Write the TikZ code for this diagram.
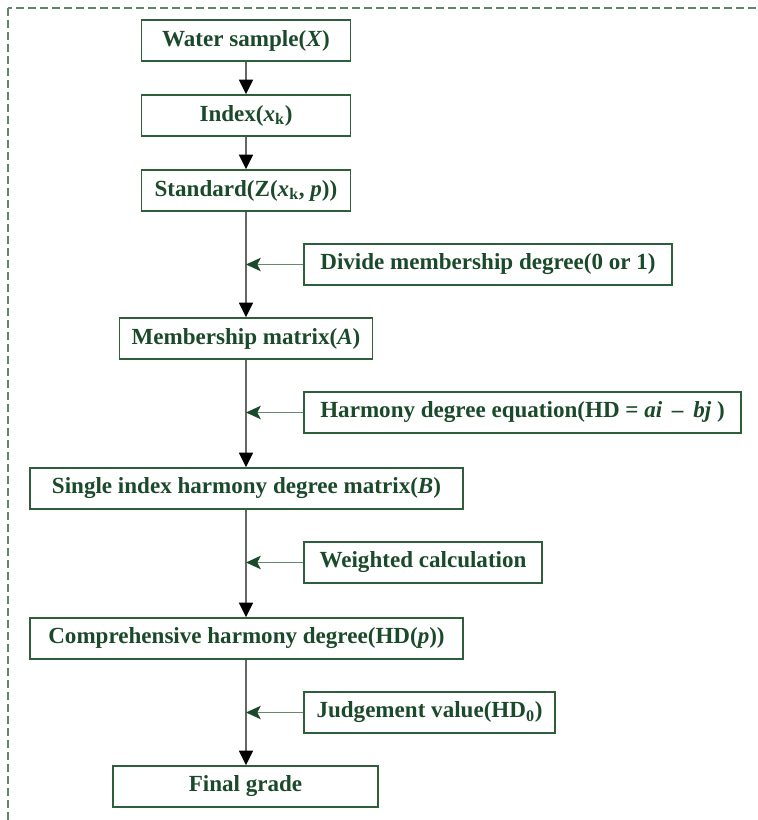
\documentclass[tikz,border=0pt]{standalone}
\usepackage{fontspec}
\setmainfont{Liberation Serif}
\usetikzlibrary{calc}
\usetikzlibrary{arrows.meta}
\definecolor{boxgreen}{HTML}{2E5E3C}
\definecolor{textgreen}{HTML}{1B4A2A}
\definecolor{linegreen}{HTML}{628A6C}
\definecolor{framegreen}{HTML}{5E8868}
\tikzset{
	stepbox/.style={draw=boxgreen, line width=1.1pt, text=textgreen, font=\fontsize{17.3}{20}\selectfont\bfseries, minimum height=30.75pt, inner sep=0pt},
	mainarrow/.style={draw=black!60, line width=1.2pt, -{Triangle[length=11pt,width=10.5pt,color=black]}},
	sidearrow/.style={draw=linegreen, line width=1.3pt, -{Stealth[length=11pt,width=10pt,inset=2.5pt,color=textgreen]}},
}
\begin{document}
\begin{tikzpicture}[x=0.75pt,y=-0.75pt]
	\useasboundingbox (0,0) rectangle (757,820);
	\draw[framegreen, line width=0.9pt, dash pattern=on 6pt off 3pt] (8,8) rectangle (780,840);
	% main column
	\node[stepbox, minimum width=156.75pt] (water) at (246,40.5) {Water sample(\textit{X})};
	\node[stepbox, minimum width=156.75pt] (index) at (246,115.5) {Index(\textit{x}\textsubscript{k})};
	\node[stepbox, minimum width=156.75pt] (standard) at (246,190.5) {Standard(Z(\textit{x}\textsubscript{k}, \textit{p}))};
	\node[stepbox, minimum width=189.75pt] (member) at (246,338.5) {Membership matrix(\textit{A})};
	\node[stepbox, minimum width=324.75pt] (single) at (246.5,488.5) {Single index harmony degree matrix(\textit{B})};
	\node[stepbox, minimum width=324.75pt] (compre) at (246.5,638.5) {Comprehensive harmony degree(HD(\textit{p}))};
	\node[stepbox, minimum width=198.75pt] (grade) at (245.5,786.5) {Final grade};
	% side inputs
	\node[stepbox, minimum width=276pt] (divide) at (488,264.5) {Divide membership degree(0 or 1)};
	\node[stepbox, minimum width=327.75pt] (equation) at (522.5,412.5) {Harmony degree equation(HD = \textit{ai} \,\textbf{–}\, \textit{bj} )};
	\node[stepbox, minimum width=178.5pt] (weighted) at (423,562.5) {Weighted calculation};
	\node[stepbox, minimum width=188.25pt] (judge) at (429.5,712.5) {Judgement value(HD\textsubscript{0})};
	% connectors
	\draw[mainarrow] (water) -- (index);
	\draw[mainarrow] (index) -- (standard);
	\draw[mainarrow] (standard) -- (standard |- member.north);
	\draw[mainarrow] (member) -- (member |- single.north);
	\draw[mainarrow] (member |- single.south) -- (member |- compre.north);
	\draw[mainarrow] (member |- compre.south) -- (member |- grade.north);
	\draw[sidearrow] (divide.west) -- (standard |- divide.west);
	\draw[sidearrow] (equation.west) -- (standard |- equation.west);
	\draw[sidearrow] (weighted.west) -- (standard |- weighted.west);
	\draw[sidearrow] (judge.west) -- (standard |- judge.west);
\end{tikzpicture}
\end{document}
